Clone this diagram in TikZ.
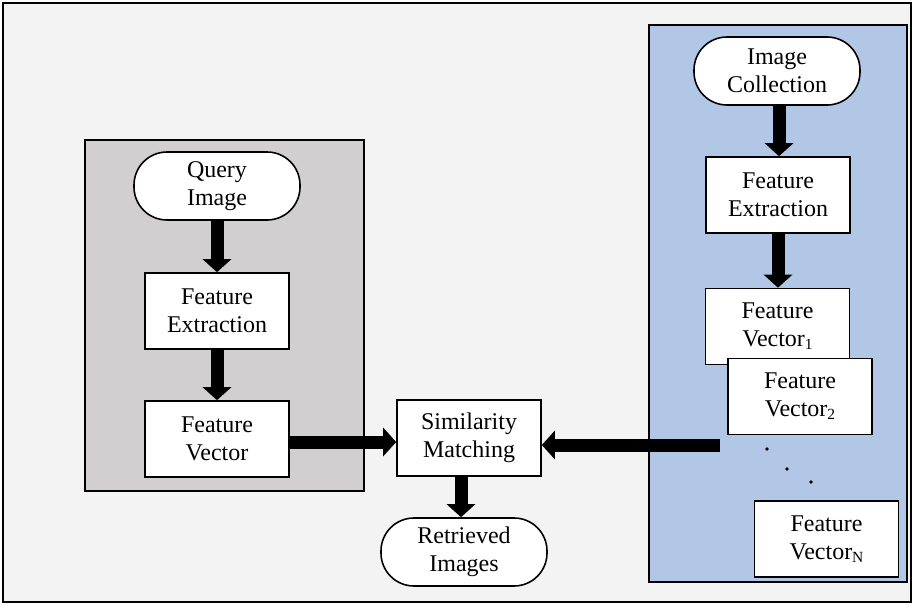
\documentclass[tikz,border=0pt]{standalone}
\usepackage{fontspec}
\setmainfont{Liberation Serif}
\usetikzlibrary{arrows.meta}
\definecolor{pagebg}{HTML}{F4F3F4}
\definecolor{querypanel}{HTML}{D1CFD0}
\definecolor{dbpanel}{HTML}{B2C6E6}
\newcommand\vsub[1]{\raisebox{-0.12em}{\fontsize{15.5}{15.5}\selectfont #1}}
\tikzset{
  procbox/.style={draw=black, line width=1.6pt, fill=white, minimum width=144pt,
    minimum height=76pt, align=center, inner sep=0pt,
    font=\fontsize{24}{28}\selectfont},
  termbox/.style={procbox, minimum width=166pt, minimum height=68pt, rounded corners=33pt},
  bigarrow/.style={line width=13pt, -{Triangle[width=28pt,length=13pt]}},
  panel/.style={draw=black, line width=1.4pt},
}
\begin{document}
\begin{tikzpicture}[x=1pt,y=-1pt]
  \useasboundingbox (0,0) rectangle (914,605);
  % page frame
  \draw[fill=pagebg, line width=1.5pt] (3,3) rectangle (911,602);

  % panels
  \draw[panel, fill=querypanel] (85,140) rectangle (364,491);
  \draw[panel, fill=dbpanel] (649,25) rectangle (907,582);

  % query side
  \node[termbox] (query) at (217,186) {Query\\Image};
  \node[procbox] (qfe) at (217,311) {Feature\\Extraction};
  \node[procbox] (qfv) at (217,439) {Feature\\Vector};

  % matching and result
  \node[procbox] (sim) at (469,438) {Similarity\\Matching};
  \node[termbox] (ret) at (464,552) {Retrieved\\Images};

  % database side
  \node[termbox] (coll) at (777,71) {Image\\Collection};
  \node[procbox] (dfe) at (778,195) {Feature\\Extraction};
  \node[procbox] (fv1) at (777.5,326.5) {Feature\\Vector\vsub{1}};
  \node[procbox] (fv2) at (800,396.5) {Feature\\Vector\vsub{2}};
  \node[procbox] (fvn) at (826.5,539) {Feature\\Vector\vsub{N}};
  \fill (767,449) circle (1.8pt) (787,469) circle (1.8pt) (811,482) circle (1.8pt);
  \coordinate (dbout) at (720,445);

  % connectors
  \draw[bigarrow] (query.south) -- (query.south |- qfe.north);
  \draw[bigarrow] (qfe.south) -- (qfe.south |- qfv.north);
  \draw[bigarrow] ([yshift=-3pt]qfv.east) -- ([yshift=-3pt]qfv.east -| sim.west);
  \draw[bigarrow] (dbout) -- (dbout -| sim.east);
  \draw[bigarrow] ([xshift=-8pt]sim.south) -- ([xshift=-8pt]sim.south |- ret.north);
  \draw[bigarrow] ([xshift=2pt]coll.south) -- ([xshift=2pt]coll.south |- dfe.north);
  \draw[bigarrow] (dfe.south) -- (dfe.south |- fv1.north);
\end{tikzpicture}
\end{document}
